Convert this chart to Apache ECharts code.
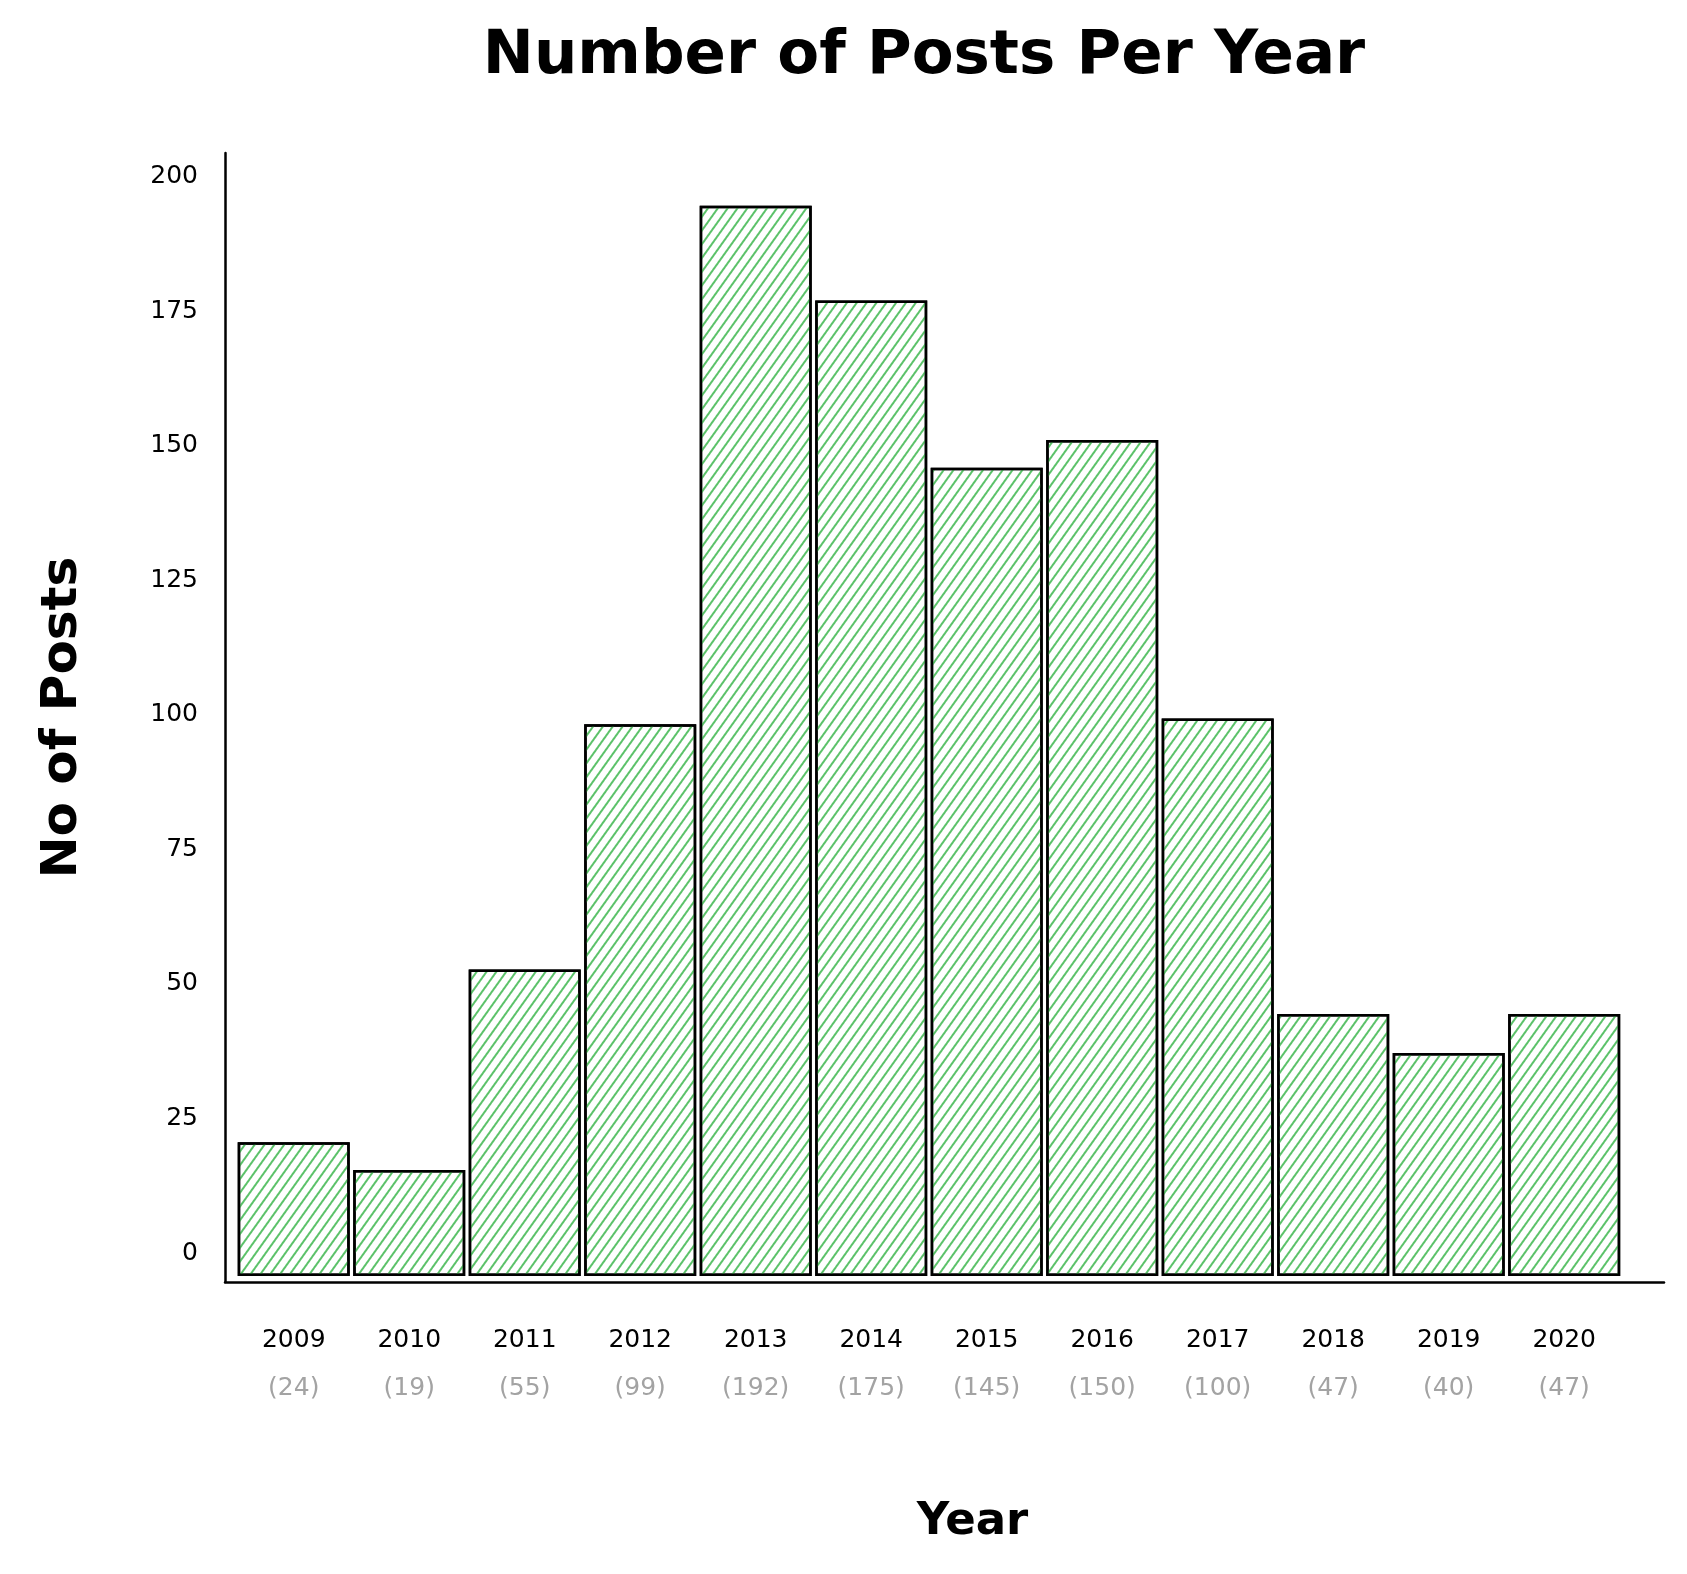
<!DOCTYPE html>
<html><head><meta charset="utf-8">
<script src="https://cdn.jsdelivr.net/npm/echarts@6/dist/echarts.min.js"></script>
<style>html,body{margin:0;padding:0;background:#fff}#c{width:1687px;height:1574px}</style>
</head><body><div id="c"></div>
<script>
const years = ['2009','2010','2011','2012','2013','2014','2015','2016','2017','2018','2019','2020'];
const posts = [24, 19, 55, 99, 192, 175, 145, 150, 100, 47, 40, 47];
const yTicks = [0, 25, 50, 75, 100, 125, 150, 175, 200];
const chartTitle = 'Number of Posts Per Year';
const xTitle = 'Year';
const yTitle = 'No of Posts';

const FONT = '"DejaVu Sans", "Noto Sans", sans-serif';
const chart = echarts.init(document.getElementById('c'), null, {renderer: 'canvas'});
chart.setOption({
  backgroundColor: '#ffffff',
  animation: false,
  title: {
    text: chartTitle,
    left: 919, top: 22, textAlign: 'center',
    textStyle: {fontFamily: FONT, fontSize: 61, fontWeight: 'bold', color: '#000'}
  },
  grid: {left: 225, right: 23, top: 153, bottom: 1574 - 1282, containLabel: false},
  xAxis: {
    type: 'value',
    min: -0.595, max: 11.864,
    name: xTitle, nameLocation: 'middle', nameGap: 218,
    nameTextStyle: {fontFamily: FONT, fontSize: 45, fontWeight: 'bold', color: '#000', padding: [0, 0, 0, 56]},
    axisLine: {show: true, onZero: false, lineStyle: {color: '#000', width: 2.5}},
    axisTick: {show: false},
    splitLine: {show: false},
    axisLabel: {
      customValues: years.map((y, i) => i),
      margin: 34,
      formatter: v => '{a|' + years[v] + '}\n{b|(' + posts[v] + ')}',
      rich: {
        a: {fontFamily: FONT, fontSize: 25, color: '#000', lineHeight: 48},
        b: {fontFamily: FONT, fontSize: 25, color: '#a3a3a3', lineHeight: 48}
      }
    }
  },
  yAxis: [{
    type: 'value', position: 'left',
    min: -1.08, max: 201.47,
    name: yTitle, nameLocation: 'middle', nameRotate: 90, nameGap: 137,
    nameTextStyle: {fontFamily: FONT, fontSize: 50, fontWeight: 'bold', color: '#000'},
    axisLine: {show: true, onZero: false, lineStyle: {color: '#000', width: 2.5}},
    axisTick: {show: false},
    axisLabel: {show: false},
    splitLine: {show: false}
  }, {
    type: 'value', position: 'left',
    min: -5.39, max: 204.46,
    axisLine: {show: false, onZero: false},
    axisTick: {show: false},
    splitLine: {show: false},
    axisLabel: {
      customValues: yTicks,
      margin: 27,
      fontFamily: FONT, fontSize: 25, color: '#000'
    }
  }],
  series: [{
    type: 'bar',
    xAxisIndex: 0, yAxisIndex: 0,
    barWidth: 112,
    data: posts.map((v, i) => [i, v]),
    itemStyle: {
      color: '#ffffff',
      borderColor: '#000',
      borderWidth: 2.5,
      decal: {
        symbol: 'rect',
        color: '#5cc26a',
        dashArrayX: [1, 0],
        dashArrayY: [2, 6],
        rotation: -0.95
      }
    }
  }]
});
</script></body></html>
